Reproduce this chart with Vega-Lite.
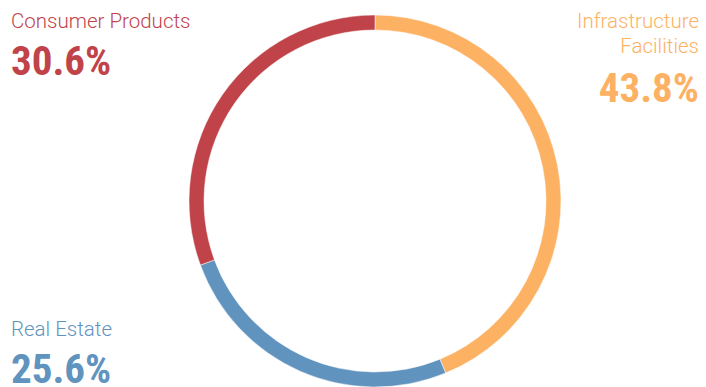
{
  "$schema": "https://vega.github.io/schema/vega-lite/v6.json",
  "width": 662,
  "height": 372,
  "autosize": "none",
  "padding": {"left": 44, "top": 15, "right": 0, "bottom": 0},
  "background": "white",
  "config": {"view": {"stroke": null}},
  "data": {
    "values": [
      {"category": "Infrastructure Facilities", "label": "Infrastructure\nFacilities", "pct": 43.8},
      {"category": "Real Estate", "label": "Real Estate", "pct": 25.6},
      {"category": "Consumer Products", "label": "Consumer Products", "pct": 30.6}
    ]
  },
  "transform": [
    {"calculate": "indexof(['Infrastructure Facilities','Real Estate','Consumer Products'], datum.category)", "as": "k"},
    {"calculate": "datum.category === 'Infrastructure Facilities' ? 1 : 0", "as": "side"},
    {"calculate": "datum.category === 'Real Estate' ? 1 : 0", "as": "row"},
    {"calculate": "format(datum.pct, '.1f') + '%'", "as": "pctText"}
  ],
  "layer": [
    {
      "mark": {"type": "arc", "radius": 186, "radius2": 171, "stroke": "white", "strokeWidth": 0.5},
      "encoding": {
        "theta": {"field": "pct", "type": "quantitative", "stack": true},
        "order": {"field": "k", "type": "quantitative"},
        "color": {
          "field": "category", "type": "nominal", "legend": null,
          "scale": {"domain": ["Infrastructure Facilities", "Real Estate", "Consumer Products"], "range": ["#fdb163", "#6193bf", "#c1434a"]}
        }
      }
    },
    {
      "transform": [{"filter": "datum.side === 0"}],
      "mark": {"type": "text", "align": "left", "baseline": "alphabetic", "font": "Roboto", "fontWeight": 300, "fontSize": 20.5},
      "encoding": {
        "x": {"field": "side", "type": "quantitative", "axis": null, "scale": {"domain": [0, 1], "range": [-33, 655]}},
        "y": {"field": "row", "type": "quantitative", "axis": null, "scale": {"domain": [0, 1], "range": [13, 321]}},
        "text": {"field": "label"},
        "color": {"field": "category", "type": "nominal", "legend": null}
      }
    },
    {
      "transform": [{"filter": "datum.side === 0"}],
      "mark": {"type": "text", "align": "left", "baseline": "alphabetic", "font": "'Roboto Condensed', 'Liberation Sans Narrow', Roboto", "fontWeight": "bold", "fontSize": 41, "dy": 47},
      "encoding": {
        "x": {"field": "side", "type": "quantitative", "axis": null, "scale": {"domain": [0, 1], "range": [-33, 655]}},
        "y": {"field": "row", "type": "quantitative", "axis": null, "scale": {"domain": [0, 1], "range": [13, 321]}},
        "text": {"field": "pctText"},
        "color": {"field": "category", "type": "nominal", "legend": null}
      }
    },
    {
      "transform": [{"filter": "datum.side === 1"}],
      "mark": {"type": "text", "align": "right", "baseline": "alphabetic", "font": "Roboto", "fontWeight": 300, "fontSize": 20.5, "lineBreak": "\n", "lineHeight": 25},
      "encoding": {
        "x": {"field": "side", "type": "quantitative", "axis": null, "scale": {"domain": [0, 1], "range": [-33, 655]}},
        "y": {"field": "row", "type": "quantitative", "axis": null, "scale": {"domain": [0, 1], "range": [13, 321]}},
        "text": {"field": "label"},
        "color": {"field": "category", "type": "nominal", "legend": null}
      }
    },
    {
      "transform": [{"filter": "datum.side === 1"}],
      "mark": {"type": "text", "align": "right", "baseline": "alphabetic", "font": "'Roboto Condensed', 'Liberation Sans Narrow', Roboto", "fontWeight": "bold", "fontSize": 41, "dy": 74},
      "encoding": {
        "x": {"field": "side", "type": "quantitative", "axis": null, "scale": {"domain": [0, 1], "range": [-33, 655]}},
        "y": {"field": "row", "type": "quantitative", "axis": null, "scale": {"domain": [0, 1], "range": [13, 321]}},
        "text": {"field": "pctText"},
        "color": {"field": "category", "type": "nominal", "legend": null}
      }
    }
  ]
}
